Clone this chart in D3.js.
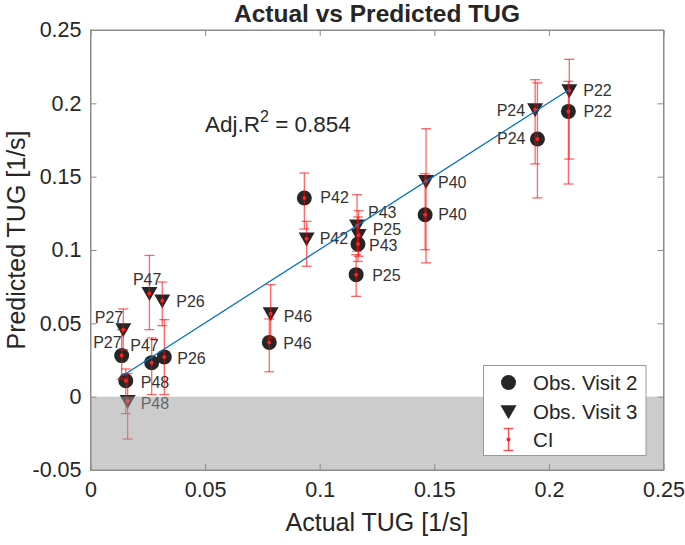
<!DOCTYPE html>
<html><head><meta charset="utf-8">
<script src="https://cdn.jsdelivr.net/npm/d3@7"></script>
<style>body{margin:0;background:#fff}svg{display:block;font-family:"Liberation Sans",Arial,sans-serif}</style>
</head><body><div id="chart"></div>
<script>
const ids = ["P22","P24","P40","P42","P43","P25","P46","P47","P26","P27","P48"];
const visit2Actual = [0.2085,0.1950,0.1460,0.0933,0.1167,0.1159,0.0780,0.0267,0.0322,0.0136,0.0154];
const visit2Pred   = [0.1945,0.1757,0.1240,0.1355,0.1041,0.0832,0.0370,0.0232,0.0271,0.0280,0.0109];
const visit2Lo     = [0.1450,0.1355,0.1002,0.1143,0.0922,0.0684,0.0170,0.0014,0.0014,0.0120,-0.0116];
const visit2Hi     = [0.2150,0.2140,0.1520,0.1525,0.1225,0.0968,0.0530,0.0400,0.0525,0.0457,0.0189];
const visit3Actual = [0.2089,0.1940,0.1464,0.0943,0.1163,0.1170,0.0786,0.0257,0.0313,0.0143,0.0162];
const visit3Pred   = [0.2088,0.1957,0.1468,0.1077,0.1165,0.1100,0.0566,0.0704,0.0654,0.0457,-0.0032];
const visit3Lo     = [0.1620,0.1587,0.0912,0.0889,0.0991,0.0957,0.0400,0.0457,0.0484,0.0320,-0.0289];
const visit3Hi     = [0.2300,0.2161,0.1827,0.1195,0.1377,0.1268,0.0764,0.0963,0.0782,0.0598,0.0157];
const fitX = [0.0140, 0.2088];
const fitY = [0.0143, 0.2093];
const xTicks = [0, 0.05, 0.1, 0.15, 0.2, 0.25];
const yTicks = [-0.05, 0, 0.05, 0.1, 0.15, 0.2, 0.25];
const legendLabels = ["Obs. Visit 2", "Obs. Visit 3", "CI"];

// label placement tweaks (pixels): [dx, dy, anchor]
const labelPos2 = {P22:[15,0,"start"],P24:[-12,0,"end"],P40:[13,0,"start"],P42:[16,0,"start"],P43:[11,2,"start"],P25:[16,1,"start"],P46:[14,1,"start"],P47:[7,-17,"end"],P26:[13,2,"start"],P27:[0,-13,"end"],P48:[15,2,"start"]};
const labelPos3 = {P22:[14,0,"start"],P24:[-10,1,"end"],P40:[12,1,"start"],P42:[13,0,"start"],P43:[11,-13,"start"],P25:[14,-6,"start"],P46:[13,3,"start"],P47:[12,-14,"end"],P26:[14,1,"start"],P27:[0,-12,"end"],P48:[13,2,"start"]};

const W = 685, H = 545;
const m = {l:90.5, r:W-663.5, t:30, b:H-470};
const svg = d3.select("#chart").append("svg").attr("width",W).attr("height",H);
const x = d3.scaleLinear().domain([0,0.25]).range([m.l, W-m.r]);
const y = d3.scaleLinear().domain([-0.05,0.25]).range([H-m.b, m.t]);
const fmt = d => d===0 ? "0" : String(d);
const txt = "#262626", frame = "#8c8c8c";

svg.append("rect").attr("x",x(0)).attr("y",y(0.25)).attr("width",x(0.25)-x(0)).attr("height",y(-0.05)-y(0.25)).attr("fill","#fff");

const v2 = ids.map((id,i)=>({id,visit:2,x:visit2Actual[i],y:visit2Pred[i],lo:visit2Lo[i],hi:visit2Hi[i],lp:labelPos2[id]}));
const v3 = ids.map((id,i)=>({id,visit:3,x:visit3Actual[i],y:visit3Pred[i],lo:visit3Lo[i],hi:visit3Hi[i],lp:labelPos3[id]}));
const all = v2.concat(v3);

const plot = svg.append("g");
plot.selectAll("circle.m").data(v2).join("circle").attr("class","m")
  .attr("cx",d=>x(d.x)).attr("cy",d=>y(d.y)).attr("r",7.5).attr("fill","#262626");
const tri = "M-8,-6.3L8,-6.3L0,7.7Z";
plot.selectAll("path.m").data(v3).join("path").attr("class","m")
  .attr("transform",d=>`translate(${x(d.x)},${y(d.y)})`).attr("d",tri).attr("fill","#262626");

// labels
plot.selectAll("text.lab").data(all).join("text").attr("class","lab")
  .attr("x",d=>x(d.x)+d.lp[0]).attr("y",d=>y(d.y)+d.lp[1])
  .attr("text-anchor",d=>d.lp[2]).attr("dominant-baseline","central")
  .attr("font-size",16).attr("fill","#333").text(d=>d.id);

// error bars
const eb = plot.selectAll("g.eb").data(all).join("g").attr("class","eb")
  .attr("stroke","#ff0000").attr("stroke-opacity",0.6).attr("stroke-width",1.3);
eb.append("line").attr("x1",d=>x(d.x)).attr("x2",d=>x(d.x)).attr("y1",d=>y(d.lo)).attr("y2",d=>y(d.hi));
eb.append("line").attr("x1",d=>x(d.x)-5).attr("x2",d=>x(d.x)+5).attr("y1",d=>y(d.lo)).attr("y2",d=>y(d.lo));
eb.append("line").attr("x1",d=>x(d.x)-5).attr("x2",d=>x(d.x)+5).attr("y1",d=>y(d.hi)).attr("y2",d=>y(d.hi));
plot.selectAll("circle.dot").data(all).join("circle").attr("class","dot")
  .attr("cx",d=>x(d.x)).attr("cy",d=>y(d.y)).attr("r",2).attr("fill","#ff2020");

// fit line
plot.append("path").datum(fitX.map((v,i)=>[v,fitY[i]]))
  .attr("d",d3.line().x(d=>x(d[0])).y(d=>y(d[1])))
  .attr("stroke","#0072BD").attr("stroke-width",1.3).attr("fill","none");

// shaded negative region (semi-transparent overlay)
svg.append("rect").attr("x",x(0)).attr("y",y(0)).attr("width",x(0.25)-x(0)).attr("height",y(-0.05)-y(0))
  .attr("fill","#999").attr("fill-opacity",0.5);

// R2 text
const r2 = svg.append("text").attr("x",205).attr("y",132).attr("font-size",22.5).attr("fill",txt);
r2.append("tspan").text("Adj.R");
r2.append("tspan").attr("dy",-10).attr("font-size",16).text("2");
r2.append("tspan").attr("dy",10).text(" = 0.854");

// axes
const ax = svg.append("g");
ax.append("g").attr("transform",`translate(0,${y(-0.05)})`)
  .call(d3.axisBottom(x).tickValues(xTicks).tickFormat(fmt).tickSizeInner(-6).tickSizeOuter(0).tickPadding(12));
ax.append("g").attr("transform",`translate(0,${y(0.25)})`)
  .call(d3.axisTop(x).tickValues(xTicks).tickFormat("").tickSizeInner(-6).tickSizeOuter(0));
ax.append("g").attr("transform",`translate(${x(0)},0)`)
  .call(d3.axisLeft(y).tickValues(yTicks).tickFormat(fmt).tickSizeInner(-6).tickSizeOuter(0).tickPadding(9));
ax.append("g").attr("transform",`translate(${x(0.25)},0)`)
  .call(d3.axisRight(y).tickValues(yTicks).tickFormat("").tickSizeInner(-6).tickSizeOuter(0));
ax.selectAll(".domain").attr("stroke",frame);
ax.selectAll(".tick line").attr("stroke",frame);
ax.selectAll(".tick text").attr("font-size",21.5).attr("fill",txt).attr("font-family","Liberation Sans, Arial, sans-serif");
svg.append("rect").attr("x",x(0)).attr("y",y(0.25)).attr("width",x(0.25)-x(0)).attr("height",y(-0.05)-y(0.25))
  .attr("fill","none").attr("stroke",frame);

// titles
svg.append("text").attr("x",377).attr("y",22).attr("text-anchor","middle").attr("font-size",24.5).attr("font-weight","bold").attr("fill",txt).text("Actual vs Predicted TUG");
svg.append("text").attr("x",377).attr("y",531).attr("text-anchor","middle").attr("font-size",25).attr("fill",txt).text("Actual TUG [1/s]");
svg.append("text").attr("transform","translate(25,240) rotate(-90)").attr("text-anchor","middle").attr("font-size",25).attr("fill",txt).text("Predicted TUG [1/s]");

// legend
const lg = svg.append("g");
lg.append("rect").attr("x",483.5).attr("y",365.5).attr("width",162.5).attr("height",90).attr("fill","#fff").attr("stroke","#999");
const ly = [382.5, 411.5, 439.5];
lg.append("circle").attr("cx",508.5).attr("cy",ly[0]).attr("r",7.5).attr("fill","#262626");
lg.append("path").attr("transform",`translate(508.5,${ly[1]})`).attr("d",tri).attr("fill","#262626");
const lci = lg.append("g").attr("stroke","#ff0000").attr("stroke-opacity",0.7).attr("stroke-width",1.3);
lci.append("line").attr("x1",508.5).attr("x2",508.5).attr("y1",ly[2]-11).attr("y2",ly[2]+11);
lci.append("line").attr("x1",503.5).attr("x2",513.5).attr("y1",ly[2]-11).attr("y2",ly[2]-11);
lci.append("line").attr("x1",503.5).attr("x2",513.5).attr("y1",ly[2]+11).attr("y2",ly[2]+11);
lg.append("circle").attr("cx",508.5).attr("cy",ly[2]).attr("r",2).attr("fill","#ff2020");
lg.selectAll("text").data(legendLabels).join("text").attr("x",533).attr("y",(d,i)=>ly[i])
  .attr("dominant-baseline","central").attr("font-size",20.5).attr("fill",txt).text(d=>d);
</script></body></html>
